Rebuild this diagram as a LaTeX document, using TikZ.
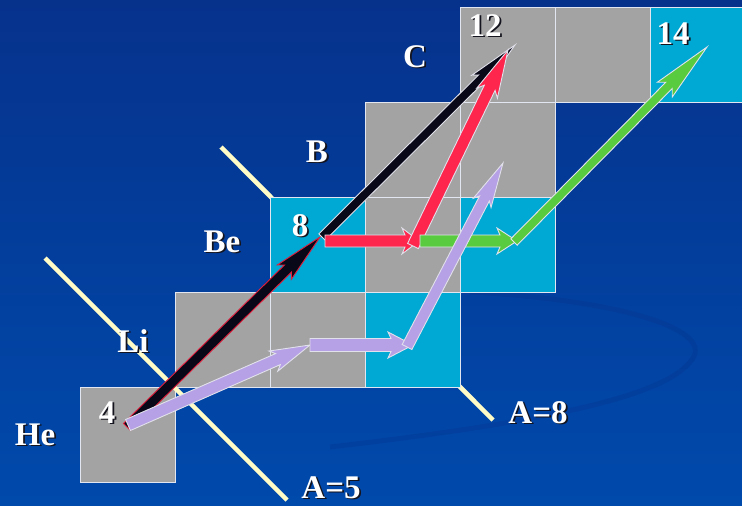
\documentclass[tikz,border=0pt]{standalone}
\usepackage{fontspec}
\setmainfont{Liberation Serif}
\usetikzlibrary{calc}
\definecolor{bgtop}{RGB}{6,50,140}
\definecolor{bgbot}{RGB}{0,74,172}
\definecolor{sqgray}{RGB}{163,163,163}
\definecolor{sqcyan}{RGB}{0,168,212}
\definecolor{edgec}{RGB}{225,230,240}
\definecolor{lineyel}{RGB}{255,252,200}
\definecolor{arred}{RGB}{255,38,78}
\definecolor{argreen}{RGB}{88,204,62}
\definecolor{arlav}{RGB}{182,160,230}
\definecolor{arblack}{RGB}{8,8,24}
\definecolor{outred}{RGB}{225,30,60}
\definecolor{outlight}{RGB}{225,225,235}
\definecolor{shadowc}{RGB}{20,20,30}
\newcommand\shtxt[1]{\rlap{\kern1.8pt\raisebox{-1.8pt}{\color{shadowc}#1}}#1}
% fill, outline, from, to, shaft width, head length, head width, notch
\newcommand\fatarrow[8]{%
  \pgfmathsetmacro\fah{#5/2}%
  \pgfmathsetmacro\fari{veclen(#6-#8,#5/2)}%
  \pgfmathsetmacro\faai{atan2(#5/2,#6-#8)}%
  \pgfmathsetmacro\farc{veclen(#6,#7/2)}%
  \pgfmathsetmacro\faac{atan2(#7/2,#6)}%
  \filldraw[fill=#1, draw=#2, line width=0.9pt, line join=miter]
    ($(#3)!\fah pt!90:(#4)$) -- ($(#4)!\fari pt!-\faai:(#3)$) --
    ($(#4)!\farc pt!-\faac:(#3)$) -- (#4) --
    ($(#4)!\farc pt!\faac:(#3)$) -- ($(#4)!\fari pt!\faai:(#3)$) --
    ($(#3)!\fah pt!-90:(#4)$) -- cycle;
}
\begin{document}
\begin{tikzpicture}[x=1pt,y=-1pt,
  sqbase/.style={minimum size=95pt, inner sep=0pt, draw=edgec, line width=0.9pt},
  sqg/.style={sqbase, fill=sqgray},
  sqc/.style={sqbase, fill=sqcyan},
  yline/.style={draw=lineyel, line width=4.5pt},
  lbl/.style={text=white, anchor=base, inner sep=0pt, font=\fontsize{33}{33}\selectfont\bfseries}]
\useasboundingbox (0,0) rectangle (742,506);
\shade[top color=bgtop, bottom color=bgbot] (0,0) rectangle (742,506);
% faint swirl of the background
\draw[draw=bgtop, opacity=0.3, line width=5pt]
  (470,292) .. controls (620,300) and (720,330) .. (690,362)
  .. controls (660,400) and (520,425) .. (330,447);

% guide lines A=5 and A=8
\coordinate (l5a) at (45,258);
\coordinate (l5b) at (287,500);
\coordinate (l8a) at (221,147);
\coordinate (l8b) at (493,420);
\draw[yline] (l8a) -- (l8b);

% squares
\node[sqg] (He)  at (127.5,434.5) {};
\node[sqg] (Li1) at (222.5,339.5) {};
\node[sqg] (Li2) at (317.5,339.5) {};
\node[sqc] (Li3) at (412.5,339.5) {};
\node[sqc] (Be1) at (317.5,244.5) {};
\node[sqg] (Be2) at (412.5,244.5) {};
\node[sqc] (Be3) at (507.5,244.5) {};
\node[sqg] (B1)  at (412.5,149.5) {};
\node[sqg] (B2)  at (507.5,149.5) {};
\node[sqg] (C1)  at (507.5,54.5) {};
\node[sqg] (C2)  at (602.5,54.5) {};
\node[sqc] (C3)  at (697.5,54.5) {};

\draw[yline] (l5a) -- (l5b);

% arrow end points
\coordinate (p4)  at (127,427);
\coordinate (p8)  at (320,237);
\coordinate (p8b) at (322,237);
\coordinate (p12) at (515,45);
\coordinate (rh0) at (325,241);
\coordinate (rh1) at (419,241);
\coordinate (rd0) at (413,246);
\coordinate (rd1) at (508,50);
\coordinate (gh0) at (420,241);
\coordinate (gh1) at (517,241);
\coordinate (gd0) at (514,242);
\coordinate (gd1) at (707,47);
\coordinate (v0)  at (128,425);
\coordinate (v1)  at (310,345);
\coordinate (vh1) at (413,345);
\coordinate (vd0) at (407,347);
\coordinate (vd1) at (503,163);

\fatarrow{arblack}{outred}{p4}{p8}{10}{50}{20}{5}
\fatarrow{arblack}{outlight}{p8b}{p12}{9}{52}{18}{5}
\fatarrow{arred}{outlight}{rh0}{rh1}{12}{17}{26}{3}
\fatarrow{arred}{outlight}{rd0}{rd1}{12}{48}{23}{6}
\fatarrow{argreen}{outlight}{gh0}{gh1}{12}{20}{26}{3}
\fatarrow{argreen}{outlight}{gd0}{gd1}{9}{60}{21}{6}
\fatarrow{arlav}{outlight}{v0}{v1}{12}{40}{22}{5}
\fatarrow{arlav}{outlight}{v1}{vh1}{13}{25}{26}{3}
\fatarrow{arlav}{outlight}{vd0}{vd1}{11}{45}{20}{5}

% labels
\node[lbl] (tHe) at (35,445) {\shtxt{He}};
\node[lbl] (tLi) at (133,352) {\shtxt{Li}};
\node[lbl] (tBe) at (222,252) {\shtxt{Be}};
\node[lbl] (tB)  at (317,162) {\shtxt{B}};
\node[lbl] (tC)  at (415,67)  {\shtxt{C}};
\node[lbl] (n4)  at (107,423) {\shtxt{4}};
\node[lbl] (n8)  at (300,236) {\shtxt{8}};
\node[lbl] (n12) at (485,36)  {\shtxt{12}};
\node[lbl] (n14) at (673,44)  {\shtxt{14}};
\node[lbl] (tA5) at (331,498) {\shtxt{A=5}};
\node[lbl] (tA8) at (538,423) {\shtxt{A=8}};
\end{tikzpicture}
\end{document}
